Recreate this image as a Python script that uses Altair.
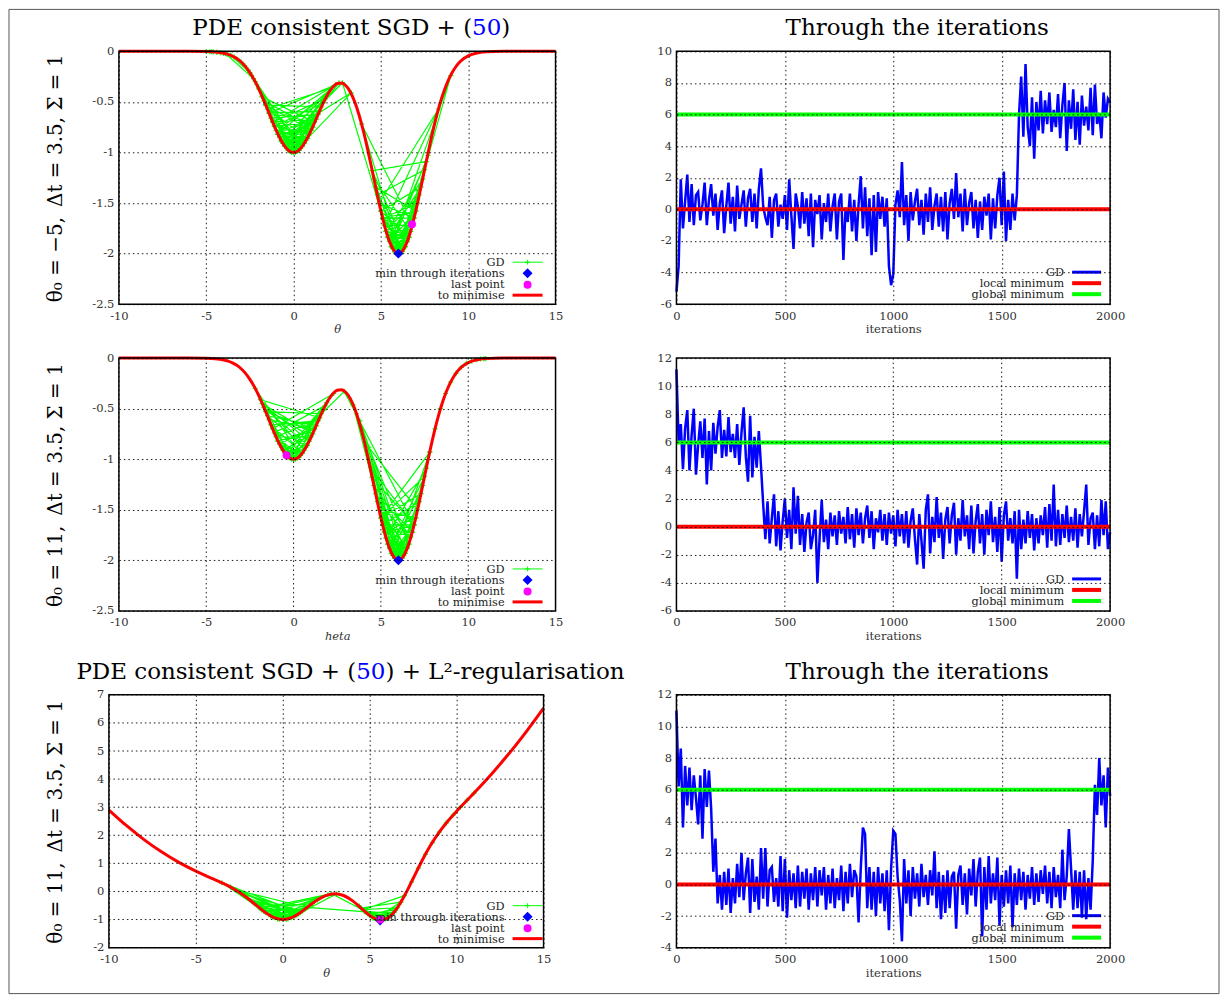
import altair as alt
import pandas as pd

FONT = "DejaVu Serif"
PLUS = "M-1,0L1,0M0,-1L0,1"

# ---------------- function to minimise (rows 1 and 2) ----------------
curve_theta = [-10, -9, -8, -7, -6, -5, -4.5, -4, -3.75, -3.5, -3.25, -3, -2.75, -2.5, -2.25, -2,
               -1.75, -1.5, -1.25, -1, -0.75, -0.5, -0.25, 0, 0.25, 0.5, 0.75, 1, 1.25, 1.5, 1.75,
               2, 2.25, 2.5, 2.75, 3, 3.25, 3.5, 3.75, 4, 4.25, 4.5, 4.75, 5, 5.25, 5.5, 5.75, 6,
               6.25, 6.5, 6.75, 7, 7.25, 7.5, 7.75, 8, 8.25, 8.5, 8.75, 9, 9.25, 9.5, 9.75, 10,
               10.5, 11, 12, 13, 14, 15]
curve_loss = [0, 0, 0, 0, 0, -0.002, -0.006, -0.018, -0.030, -0.047, -0.071, -0.105, -0.151, -0.210,
              -0.282, -0.368, -0.465, -0.570, -0.677, -0.779, -0.869, -0.939, -0.985, -1.000, -0.985,
              -0.940, -0.869, -0.784, -0.686, -0.586, -0.492, -0.412, -0.352, -0.318, -0.313, -0.340,
              -0.401, -0.499, -0.629, -0.790, -0.976, -1.177, -1.383, -1.578, -1.750, -1.884, -1.970,
              -2.000, -1.970, -1.884, -1.749, -1.576, -1.379, -1.171, -0.965, -0.772, -0.599, -0.452,
              -0.330, -0.235, -0.162, -0.108, -0.070, -0.044, -0.016, -0.005, 0, 0, 0, 0]

# ---------------- regularised function (row 3) ----------------
reg_theta = [-10, -9, -8, -7, -6, -5, -4.5, -4, -3.5, -3, -2.5, -2, -1.5, -1, -0.5, 0, 0.5, 1, 1.5,
             2, 2.5, 3, 3.5, 4, 4.5, 5, 5.5, 6, 6.5, 7, 7.5, 8, 8.5, 9, 9.5, 10, 11, 12, 13, 14, 15]
reg_loss = [2.900, 2.349, 1.856, 1.421, 1.044, 0.723, 0.581, 0.446, 0.308, 0.156, -0.029, -0.252,
            -0.505, -0.750, -0.932, -1.000, -0.933, -0.755, -0.521, -0.296, -0.137, -0.079, -0.144,
            -0.326, -0.590, -0.853, -1.007, -0.956, -0.659, -0.155, 0.460, 1.084, 1.643, 2.114,
            2.509, 2.856, 3.504, 4.176, 4.901, 5.684, 6.525]

# ---------------- GD iterates (theta, noisy loss) ----------------
gd_path_1 = [
    (-5.0, -0.002), (-4.8, -0.003), (-4.6, -0.005), (-4.4, -0.01), (-4.2, -0.012), (-4.0, -0.02),
    (-3.8, -0.027), (-3.6, -0.04), (-3.4, -0.055), (-3.2, -0.08), (-3.0, -0.105), (-2.8, -0.14),
    (-2.6, -0.185), (-2.4, -0.24), (-2.2, -0.298), (-2.0, -0.37), (-1.8, -0.445), (-1.6, -0.53),
    (-1.4, -0.612), (1.2, -0.70), (-1.1, -0.74), (0.9, -0.82), (-0.6, -0.91), (1.4, -0.62),
    (-1.3, -0.66), (0.3, -0.98), (-0.9, -0.82), (1.0, -0.78), (-0.2, -0.99), (1.6, -0.55),
    (-1.6, -0.53), (0.6, -0.91), (-0.4, -0.96), (1.9, -0.44), (-1.0, -0.78), (0.8, -0.86),
    (-1.5, -0.57), (2.2, -0.36), (-0.7, -0.89), (0.4, -0.96), (-2.1, -0.33), (0.1, -1.0),
    (1.3, -0.67), (-1.2, -0.70), (2.6, -0.31), (-0.3, -0.98), (0.7, -0.88), (3.3, -0.41),
    (-0.8, -0.85), (1.1, -0.75), (-1.7, -0.49), (0.5, -0.94), (-0.5, -0.94), (1.5, -0.59),
    (-1.4, -0.61), (0.2, -0.99), (0.9, -0.82), (-1.1, -0.74), (1.7, -0.51), (-0.1, -1.0),
    (-1.8, -0.45), (1.2, -0.70), (-0.7, -0.88), (0.6, -0.91), (-0.4, -0.96), (0.5, -0.94),
    (-0.9, -0.82), (0.3, -0.98), (-0.6, -0.91), (0.8, -0.86), (-0.3, -0.98), (0.4, -0.96),
    (-2.5, -0.21), (-3.6, -0.04),
    (-4.7, -0.004), (-3.9, -0.022), (-2.3, -0.27), (-0.8, -0.85), (1.1, -0.75), (-0.5, -0.94),
    (2.0, -0.41), (0.2, -0.99), (-1.4, -0.61), (2.4, -0.33), (-0.9, -0.82), (1.4, -0.62),
    (-0.2, -0.99), (0.8, -0.86), (-1.2, -0.70), (1.8, -0.47), (0.0, -1.0), (-1.6, -0.53),
    (1.0, -0.78), (-0.6, -0.91), (2.8, -0.31), (5.0, -1.58), (7.3, -1.34), (5.4, -1.84),
    (6.6, -1.84), (5.2, -1.72), (8.3, -0.57), (4.9, -1.50), (6.9, -1.65), (5.6, -1.93),
    (9.0, -0.24), (6.2, -1.98), (4.7, -1.34), (7.0, -1.58), (5.8, -1.98), (6.4, -1.93),
    (4.5, -1.18), (7.6, -1.09), (5.5, -1.88), (6.8, -1.72), (3.9, -0.72), (6.1, -1.99),
    (7.2, -1.42), (5.3, -1.78), (6.5, -1.88), (4.8, -1.42), (7.5, -1.17), (5.9, -1.99),
    (6.3, -1.95), (5.1, -1.65), (7.1, -1.50), (5.7, -1.95), (6.7, -1.78), (4.6, -1.26),
    (6.0, -2.0), (7.4, -1.26), (5.3, -1.78), (6.6, -1.84), (5.0, -1.58), (6.2, -1.98),
    (5.5, -1.88), (6.5, -1.88), (5.7, -1.95), (6.3, -1.95), (5.4, -1.84), (6.7, -1.78),
    (5.8, -1.98), (6.4, -1.93), (5.6, -1.93), (6.6, -1.84), (5.3, -1.78), (6.2, -1.98),
    (5.9, -1.99), (6.8, -1.72), (5.2, -1.72), (6.5, -1.88), (5.5, -1.88), (7.0, -1.58),
    (5.1, -1.65), (6.9, -1.65), (5.4, -1.84), (6.1, -1.99),
    (7.7, -1.03), (5.6, -1.93), (6.78, -1.71)]

gd_path_2 = [
    (11.0, -0.005), (10.9, -0.006), (10.7, -0.009), (10.5, -0.016), (10.2, -0.03), (9.9, -0.05),
    (9.6, -0.09), (9.3, -0.15), (9.0, -0.235), (8.7, -0.35), (8.4, -0.50), (8.1, -0.70),
    (7.8, -0.93), (5.0, -1.58), (7.3, -1.34), (5.5, -1.88), (6.7, -1.77), (4.6, -1.26),
    (6.2, -1.98), (7.6, -1.09), (5.3, -1.78), (6.5, -1.88), (4.9, -1.50), (7.0, -1.58),
    (5.8, -1.98), (4.4, -1.08), (6.9, -1.65), (5.6, -1.93), (7.4, -1.26), (6.0, -2.0),
    (5.2, -1.72), (6.8, -1.72), (4.7, -1.34), (6.3, -1.95), (7.8, -0.93), (5.7, -1.95),
    (6.6, -1.84), (4.3, -0.88), (7.1, -1.50), (5.4, -1.84), (6.1, -1.99), (3.8, -0.62),
    (6.4, -1.93), (5.1, -1.65), (7.2, -1.42), (5.9, -1.99), (4.8, -1.42), (6.7, -1.77),
    (5.5, -1.88), (6.5, -1.88), (5.7, -1.95), (6.3, -1.95), (5.4, -1.84), (6.6, -1.84),
    (5.8, -1.98), (6.4, -1.93), (5.6, -1.93), (6.8, -1.72), (5.3, -1.78), (6.2, -1.98),
    (5.9, -1.99), (7.0, -1.58), (5.2, -1.72), (6.9, -1.65), (5.1, -1.65), (6.1, -1.99),
    (3.4, -0.46), (5.5, -1.88), (7.5, -1.17), (5.0, -1.58), (6.3, -1.95), (3.6, -0.55),
    (6.0, -2.0), (4.5, -1.18), (6.9, -1.65), (2.9, -0.33), (1.6, -0.55), (-1.6, -0.53),
    (1.2, -0.70), (-0.9, -0.82), (0.5, -0.94), (-1.3, -0.66), (1.4, -0.62), (-0.3, -0.98),
    (0.9, -0.82), (-1.8, -0.45), (1.1, -0.75), (-0.6, -0.91), (0.3, -0.98), (-1.1, -0.74),
    (1.8, -0.47), (-0.2, -0.99), (0.7, -0.88), (-1.5, -0.57), (1.3, -0.67), (-0.8, -0.85),
    (0.1, -1.0), (-1.2, -0.70), (2.3, -0.35), (-0.5, -0.94), (0.8, -0.86), (-1.7, -0.49),
    (1.0, -0.78), (-1.0, -0.78), (1.5, -0.59), (-1.9, -0.41), (0.6, -0.91), (-0.7, -0.88),
    (0.4, -0.96), (-0.6, -0.91), (0.5, -0.94), (-0.9, -0.82), (0.2, -0.99), (-0.4, -0.96),
    (1.7, -0.51), (0.0, -1.0), (-1.4, -0.61), (1.2, -0.70), (-0.1, -1.0), (-2.2, -0.30),
    (0.4, -0.96), (1.9, -0.44), (-0.4, -0.96)]

gd_path_3 = [
    (11.0, 3.50), (10.6, 3.25), (10.2, 2.99), (9.8, 2.73), (9.4, 2.44), (9.0, 2.11), (8.6, 1.74),
    (8.2, 1.32), (7.8, 0.83), (7.4, 0.33), (7.0, -0.15), (4.6, -0.65), (6.6, -0.58), (5.0, -0.85),
    (6.4, -0.74), (4.8, -0.75), (6.2, -0.87), (5.3, -0.97), (6.8, -0.38), (4.5, -0.59),
    (5.9, -0.98), (4.9, -0.80), (6.5, -0.66), (5.6, -1.02), (4.4, -0.52), (5.2, -0.94),
    (6.0, -0.96), (4.7, -0.70), (5.7, -1.01), (2.8, -0.08), (-1.3, -0.61), (1.2, -0.66),
    (-0.7, -0.87), (0.6, -0.90), (-1.6, -0.45), (1.5, -0.52), (-0.2, -0.99), (0.9, -0.80),
    (-2.0, -0.25), (0.3, -0.975), (-1.0, -0.75), (2.0, -0.30), (-0.5, -0.93), (1.1, -0.71),
    (-2.4, -0.07), (0.2, -0.99), (-1.4, -0.56), (1.7, -0.43), (-0.3, -0.975), (0.8, -0.84),
    (-3.0, 0.156), (-1.1, -0.70), (1.3, -0.62), (-0.8, -0.83), (2.6, -0.12), (0.0, -1.0),
    (-1.8, -0.35), (1.0, -0.755), (-3.5, 0.308), (-0.6, -0.90), (0.5, -0.93), (3.1, -0.08),
    (-1.2, -0.66), (0.7, -0.87), (-2.7, 0.05), (1.4, -0.57), (6.3, -0.80), (4.7, -0.70),
    (6.0, -0.96), (5.2, -0.94), (6.4, -0.74), (5.6, -1.0)]

min_point_1, last_point_1 = (6.0, -2.0), (6.78, -1.71)
min_point_2, last_point_2 = (6.0, -2.0), (-0.4, -0.96)
min_point_3, last_point_3 = (5.6, -1.03), (5.6, -1.0)

# ---------------- theta through the iterations ----------------
iterations = list(range(0, 2001, 10))
theta_run_1 = [
    -5.2, -3.6, 1.9, -1.2, 0.5, 2.2, -0.8, 1.6, -1.0, 0.9,
    1.1, -0.7, 0.3, 1.7, -1.0, 0.6, 1.6, -0.4, 1.0, -1.3,
    0.4, 1.2, -1.5, 0.2, 1.7, -0.9, 0.8, -1.4, 1.5, -0.6,
    0.3, 1.2, -1.1, 0.7, 1.3, -0.8, 1.0, -1.2, 1.3, 2.6,
    0.2, -0.5, -1.0, 0.8, -1.8, 0.6, 1.0, -1.1, 0.3, -0.6,
    0.9, -1.3, 1.9, -0.4, -2.5, 1.0, 0.2, -1.2, 1.1, -0.9,
    0.7, -1.7, 1.0, -2.4, 0.6, -0.3, 0.9, -1.9, 0.4, -0.8,
    1.0, -1.4, 0.2, 1.0, -1.9, 0.5, 1.0, -3.2, 0.1, -0.8,
    1.0, -1.4, 0.6, -2.0, 0.3, 2.1, -1.2, 1.4, -1.7, 0.7,
    -2.9, 0.9, -2.7, 1.1, -0.6, 0.8, -1.1, 0.7, -3.6, -4.8,
    -4.1, 0.3, 1.2, -0.5, 3.0, -1.0, 0.9, -2.0, 1.1, -0.7,
    0.5, 1.3, -1.0, 0.6, -1.6, 1.0, -0.8, 1.4, -1.3, 0.2,
    1.0, -1.1, 0.8, -1.4, 1.1, -1.9, 0.4, 1.3, -0.6, 2.3,
    -0.5, 1.0, -1.4, 1.3, -1.0, 0.4, 1.1, -1.2, 0.6, -1.8,
    0.5, -1.3, 0.8, -0.4, 1.0, -1.9, 0.7, -1.2, 0.9, 2.0,
    -1.0, 2.4, -2.0, 0.6, -1.3, 1.0, -0.7, 0.9, 6.0, 8.4,
    4.6, 9.2, 5.2, 4.0, 7.1, 3.2, 6.8, 5.0, 7.5, 4.8,
    6.9, 5.4, 7.4, 4.9, 6.3, 5.2, 7.3, 4.5, 6.6, 8.0,
    3.7, 6.9, 5.1, 7.6, 4.4, 6.8, 4.1, 7.2, 5.3, 6.5,
    5.0, 7.7, 4.7, 7.9, 5.4, 6.1, 4.5, 7.4, 5.8, 7.0,
    6.78]
theta_run_2 = [
    11.2, 6.0, 7.3, 4.1, 7.0, 8.3, 4.0, 6.5, 8.4, 3.7,
    5.8, 7.5, 4.9, 7.7, 3.0, 6.8, 4.0, 7.4, 5.2, 7.1,
    8.3, 4.9, 6.9, 5.0, 7.8, 5.3, 6.6, 4.9, 7.3, 4.4,
    6.7, 8.5, 5.0, 3.2, 7.9, 3.5, 6.4, 4.2, 6.8, 4.3,
    1.6, -0.9, 1.8, -1.2, 0.6, 2.3, -1.4, 1.1, -1.7, 0.4,
    2.0, -0.8, 1.2, -1.6, 2.8, -0.5, 2.2, -1.3, 0.9, -1.8,
    0.3, 1.0, -1.6, -0.6, 1.2, -4.0, -0.9, 1.9, -1.1, 0.5,
    -1.6, 1.0, -0.7, 0.8, -1.3, 1.1, -0.5, 0.7, -1.2, 1.4,
    -0.9, 0.9, -1.5, 1.3, -0.6, 1.0, -1.2, 0.6, 1.5, -0.8,
    1.1, -1.6, 0.6, -0.4, 1.2, -1.0, 0.9, -1.3, 1.0, -0.5,
    0.8, -1.4, 1.2, -0.7, 0.9, -1.2, 1.1, -1.5, 0.4, 1.3,
    -0.9, -2.7, 0.9, -1.0, -3.0, 1.2, 2.3, -1.9, 0.7, -1.1,
    2.1, -0.8, 1.0, -2.3, 0.5, 1.4, -1.2, 0.8, 1.7, -2.0,
    0.6, -1.0, 1.9, -0.7, 0.8, -1.6, 1.5, -1.9, 0.4, 1.6,
    -1.2, 0.9, -2.0, 1.2, -0.6, 1.8, -1.1, 0.7, -1.8, 1.4,
    -2.5, 0.8, 1.8, -1.0, 0.6, -1.2, 1.1, -3.7, 1.2, -1.6,
    0.5, -1.2, 1.1, -0.8, 0.9, -1.7, 0.6, -1.2, 0.8, -0.6,
    1.4, -1.5, 1.6, -1.0, 3.0, -1.4, 1.2, -1.3, 0.9, -0.8,
    1.5, -1.1, 0.7, -1.0, 1.3, -1.5, 0.9, -0.7, 1.1, 3.0,
    -1.3, 0.6, 1.0, -1.6, 0.8, -1.4, 1.9, -0.6, 1.8, -1.6,
    -0.4]
theta_run_3 = [
    11.0, 6.2, 8.6, 3.6, 7.5, 5.0, 7.4, 4.7, 6.9, 5.5,
    3.8, 6.9, 2.9, 7.3, 4.9, 7.2, 4.8, 0.8, 2.9, -1.2,
    0.6, -1.6, 0.8, -1.3, 1.0, -1.8, 0.4, -1.2, 1.3, -0.8,
    2.0, -1.0, 0.7, 1.7, -1.8, 1.6, -1.1, 0.5, -1.6, 2.3,
    -0.9, 2.3, -1.4, 0.9, 1.1, -1.1, 0.4, -1.4, 1.8, -1.7,
    1.6, -2.1, 0.9, -1.0, 0.7, -1.5, 1.2, -1.4, 0.8, -0.9,
    1.0, -1.6, 0.7, -1.0, 1.1, -1.4, 0.9, -0.7, 1.1, -1.6,
    0.6, -1.2, 1.0, -1.5, 0.4, -1.0, 1.2, -1.7, 0.8, -1.2,
    1.3, -0.8, 0.9, 0.5, -2.4, 1.0, 3.6, 3.2, -1.5, 1.1,
    -1.6, 0.8, -2.0, 1.1, -1.2, 0.7, -1.7, 0.9, -2.9, 1.0,
    3.4, 3.2, 0.5, -1.0, -3.6, 1.6, -1.2, 0.9, -2.0, 1.1,
    -0.9, 0.7, -1.4, 1.3, -0.8, 0.6, -1.3, 0.9, -0.7, 2.1,
    -1.5, 0.8, -2.2, 0.6, -1.8, 0.9, -1.5, 0.5, 0.8, -2.8,
    0.6, 1.2, -1.3, 0.7, -1.9, 1.0, -0.7, 1.6, -1.4, 0.8,
    1.7, -3.3, 1.1, -1.6, 1.8, -1.2, 0.7, -1.0, 1.7, -2.6,
    0.6, -1.4, 0.9, -1.2, 1.2, -2.7, 0.7, -1.3, 1.0, -1.0,
    0.8, -1.6, 0.6, -0.9, 1.1, -1.3, 0.7, -1.1, 0.9, -0.6,
    1.2, -1.2, 0.8, -1.5, 1.1, -0.8, 0.6, -1.5, 2.2, -1.0,
    0.5, 3.5, 1.0, -1.6, 0.9, -1.5, 0.8, -2.1, 0.9, -2.2,
    0.4, -1.6, 1.5, 6.3, 4.4, 8.0, 5.0, 6.9, 3.6, 7.4,
    5.6]
local_minimum = 0.0
global_minimum = 6.0

# ---------------- texts and tick values ----------------
row_labels = ["θ₀ = −5,\u2002Δt = 3.5, Σ = 1", "θ₀ = 11,\u2002Δt = 3.5, Σ = 1",
              "θ₀ = 11,\u2002Δt = 3.5, Σ = 1"]
left_titles = [["PDE consistent SGD + (", "50", ")"],
               ["PDE consistent SGD + (", "50", ") + L²-regularisation"]]
right_title = "Through the iterations"
left_legend = ["GD", "min through iterations", "last point", "to minimise"]
right_legend = ["GD", "local minimum", "global minimum"]
x_titles = ["θ", "heta", "θ"]
theta_ticks = [-10, -5, 0, 5, 10, 15]
iter_ticks = [0, 500, 1000, 1500, 2000]
loss_ticks = [-2.5, -2, -1.5, -1, -0.5, 0]
reg_ticks = [-2, -1, 0, 1, 2, 3, 4, 5, 6, 7]

LW, LH, RW = 437, 253, 434
EXTRA = 30          # empty band below row 2 (larger gap before row 3)
ONE = pd.DataFrame({"a": [0]})
DASH = [1.5, 3]


def axis(values, title="", style="normal", is_x=True, **extra):
    props = dict(values=values, title=title, grid=True, ticks=False, domain=False,
                 labelExpr="toString(datum.value)", labelFont=FONT, labelFontSize=11.5,
                 labelColor="#333", labelPadding=6 if is_x else 5, labelAngle=0,
                 labelFlush=False, labelOverlap=False, labelBound=False,
                 titleFont=FONT, titleFontSize=11.5, titleFontWeight="normal",
                 titleFontStyle=style, titleColor="#333", titlePadding=2,
                 gridColor="black", gridDash=DASH, gridWidth=1, gridOpacity=0.9,
                 zindex=1)
    props.update(extra)
    return alt.Axis(**props)


def text(txt, x, y, size, color="black", align="left", style="normal"):
    return alt.Chart(pd.DataFrame({"s": [txt]})).mark_text(
        font=FONT, fontSize=size, color=color, align=align, baseline="alphabetic",
        fontStyle=style).encode(text="s:N", x=alt.value(x), y=alt.value(y))


def hline(x1, x2, y, color, width):
    return alt.Chart(ONE).mark_rule(color=color, strokeWidth=width).encode(
        x=alt.value(x1), x2=alt.value(x2), y=alt.value(y))


def sym(x, y, shape, color, size, filled=True):
    kw = dict(shape=shape, size=size, opacity=1)
    if filled:
        kw.update(filled=True, fill=color, strokeWidth=0)
    else:
        kw.update(filled=False, stroke=color, strokeWidth=1)
    return alt.Chart(ONE).mark_point(**kw).encode(x=alt.value(x), y=alt.value(y))


def frame(x0, x1):
    return alt.Chart(ONE).mark_rect(fillOpacity=0, stroke="black", strokeWidth=1.5).encode(
        x=alt.value(x0), x2=alt.value(x1), y=alt.value(0), y2=alt.value(LH))


def vgrid(ticks, field, x_enc):
    return alt.Chart(pd.DataFrame({field: ticks})).mark_rule(
        color="black", strokeWidth=1, strokeDash=DASH, opacity=0.9).encode(
        x=x_enc, y=alt.value(0), y2=alt.value(LH))


def hgrid(ticks, field, y_enc, x0, x1):
    return alt.Chart(pd.DataFrame({field: ticks})).mark_rule(
        color="black", strokeWidth=1, strokeDash=DASH, opacity=0.9).encode(
        y=y_enc, x=alt.value(x0), x2=alt.value(x1))


def title_parts(parts, split_x, y=-16, size=23):
    w50 = 2 * 0.636 * size
    return [text(parts[0], split_x, y, size, align="right"),
            text(parts[1], split_x, y, size, color="#0000ff"),
            text(parts[2], split_x + w50, y, size)]


def left_panel(ct, cl, path, min_pt, last_pt, ydom, yvals, row_label, xtitle, xstyle,
               title=None, title_x=0, border=False, extra=0, shift=0):
    x0, x1 = -shift, LW - shift - (2 if shift else 0)
    x_enc = alt.X("t:Q", scale=alt.Scale(domain=[-10, 15], nice=False, zero=False, range=[x0, x1]),
                  axis=axis(theta_ticks, xtitle, xstyle, offset=-extra, grid=(extra == 0)))
    y_enc = alt.Y("l:Q", scale=alt.Scale(domain=ydom, nice=False, zero=False, range=[LH, 0]),
                  axis=axis(yvals, row_label, is_x=False, titleX=-57 + shift, titleY=LH / 2,
                            titleAngle=270, titleAlign="center", titleBaseline="alphabetic",
                            titleFontSize=20, titleColor="black", offset=shift,
                            grid=(shift == 0)))
    gd = pd.DataFrame({"t": [p[0] for p in path], "l": [p[1] for p in path],
                       "k": list(range(len(path)))})
    cur = pd.DataFrame({"t": ct, "l": cl})
    layers = [
        alt.Chart(gd).mark_line(color="#00ff00", strokeWidth=1.2).encode(
            x=x_enc, y=y_enc, order="k:Q"),
        alt.Chart(gd).mark_point(shape=PLUS, size=26, filled=False, stroke="#00ff00",
                                 strokeWidth=1.2, opacity=1).encode(x=x_enc, y=y_enc),
        alt.Chart(cur).mark_line(color="#ff0000", strokeWidth=3, interpolate="monotone").encode(
            x=x_enc, y=y_enc),
        alt.Chart(pd.DataFrame({"t": [min_pt[0]], "l": [min_pt[1]]})).mark_point(
            shape="diamond", filled=True, fill="#0000ff", strokeWidth=0, size=100, opacity=1).encode(
            x=x_enc, y=y_enc),
        alt.Chart(pd.DataFrame({"t": [last_pt[0]], "l": [last_pt[1]]})).mark_point(
            shape="circle", filled=True, fill="#ff00ff", strokeWidth=0, size=64, opacity=1).encode(
            x=x_enc, y=y_enc),
    ]
    if extra:
        layers.append(vgrid(theta_ticks, "t", x_enc))
    if shift:
        layers.append(hgrid(yvals, "l", y_enc, x0, x1))
    layers += [
        alt.Chart(ONE).mark_text(text=left_legend, font=FONT, fontSize=11.3, color="#222",
                                 align="right", baseline="alphabetic", lineHeight=11.1).encode(
            x=alt.value(386), y=alt.value(215)),
        hline(394, 424, 211, "#00ff00", 1),
        sym(409, 211, PLUS, "#00ff00", 24, filled=False),
        sym(409, 222, "diamond", "#0000ff", 100),
        sym(409, 233.5, "circle", "#ff00ff", 64),
        hline(394, 424, 244, "#ff0000", 3),
        frame(x0, x1),
    ]
    if border:
        layers.append(alt.Chart(ONE).mark_rect(fillOpacity=0, stroke="#555", strokeWidth=1).encode(
            x=alt.value(-110), x2=alt.value(1101), y=alt.value(-42), y2=alt.value(943)))
    if title is not None:
        layers += title_parts(title, title_x)
    return alt.layer(*layers).properties(width=LW, height=LH + extra)


def right_panel(run, ydom, yvals, show_title, extra=0):
    x_enc = alt.X("x:Q", scale=alt.Scale(domain=[0, 2000], nice=False, zero=False),
                  axis=axis(iter_ticks, "iterations", offset=-extra, grid=(extra == 0)))
    y_enc = alt.Y("y:Q", scale=alt.Scale(domain=ydom, nice=False, zero=False, range=[LH, 0]),
                  axis=axis(yvals, "", is_x=False))
    df = pd.DataFrame({"x": iterations, "y": run})
    layers = [
        alt.Chart(df).mark_line(color="#0000ff", strokeWidth=2.5).encode(x=x_enc, y=y_enc),
        alt.Chart(pd.DataFrame({"y": [local_minimum]})).mark_rule(
            color="#ff0000", strokeWidth=4).encode(y=y_enc),
        alt.Chart(pd.DataFrame({"y": [global_minimum]})).mark_rule(
            color="#00ff00", strokeWidth=4).encode(y=y_enc),
    ]
    if extra:
        layers.append(vgrid(iter_ticks, "x", x_enc))
    layers += [
        alt.Chart(ONE).mark_text(text=right_legend, font=FONT, fontSize=11.3, color="#222",
                                 align="right", baseline="alphabetic", lineHeight=11.1).encode(
            x=alt.value(388), y=alt.value(225)),
        hline(396, 425, 221, "#0000ff", 3),
        hline(396, 425, 232, "#ff0000", 4),
        hline(396, 425, 243, "#00ff00", 4),
        frame(0, RW),
    ]
    if show_title:
        layers.append(text(right_title, 241, -16, 23, align="center"))
    return alt.layer(*layers).properties(width=RW, height=LH + extra)


panels = [
    left_panel(curve_theta, curve_loss, gd_path_1, min_point_1, last_point_1, [-2.5, 0],
               loss_ticks, row_labels[0], x_titles[0], "italic",
               title=left_titles[0], title_x=353.5, border=True),
    right_panel(theta_run_1, [-6, 10], [-6, -4, -2, 0, 2, 4, 6, 8, 10], True),
    left_panel(curve_theta, curve_loss, gd_path_2, min_point_2, last_point_2, [-2.5, 0],
               loss_ticks, row_labels[1], x_titles[1], "italic", extra=EXTRA),
    right_panel(theta_run_2, [-6, 12], [-6, -4, -2, 0, 2, 4, 6, 8, 10, 12], False, extra=EXTRA),
    left_panel(reg_theta, reg_loss, gd_path_3, min_point_3, last_point_3, [-2, 7],
               reg_ticks, row_labels[2], x_titles[2], "italic",
               title=left_titles[1], title_x=237.5, shift=10),
    right_panel(theta_run_3, [-4, 12], [-4, -2, 0, 2, 4, 6, 8, 10, 12], True),
]

chart = alt.concat(*panels, columns=2, spacing={"row": 54, "column": 121}, bounds="flush"
                   ).properties(padding=0).configure_view(stroke="transparent")

chart.save("out.html", embed_options={"renderer": "svg", "actions": False})
